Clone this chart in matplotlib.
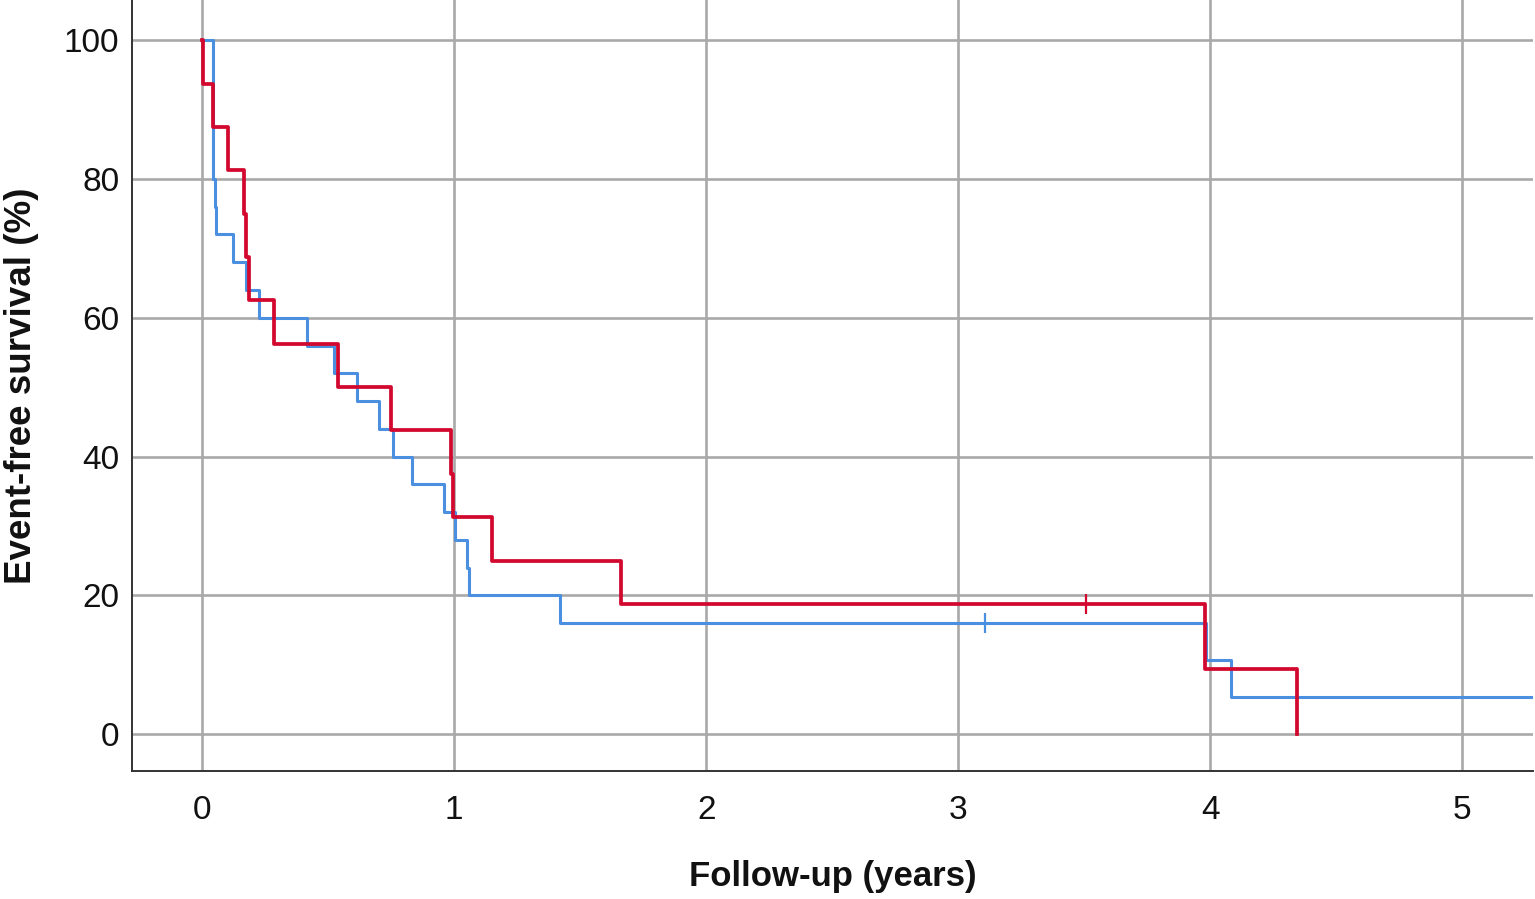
import matplotlib
matplotlib.use("Agg")
import matplotlib.pyplot as plt

# ---- data ----
# Blue group: event times (years) and survival (%) after each step
blue_times = [0.0, 0.045, 0.050, 0.056, 0.123, 0.175, 0.226, 0.417, 0.524, 0.615,
              0.702, 0.758, 0.833, 0.960, 1.004, 1.052, 1.060, 1.421, 3.984, 4.083, 5.40]
blue_surv = [100, 80, 76, 72, 68, 64, 60, 56, 52, 48,
             44, 40, 36, 32, 28, 24, 20, 16, 10.67, 5.33, 5.33]
blue_censor_t = [3.107]
blue_censor_s = [16]

# Red group
red_times = [0.0, 0.004, 0.044, 0.103, 0.167, 0.175, 0.185, 0.286, 0.540, 0.750,
             0.988, 0.996, 1.151, 1.663, 3.980, 4.345]
red_surv = [100, 93.75, 87.5, 81.25, 75, 68.75, 62.5, 56.25, 50, 43.75,
            37.5, 31.25, 25, 18.75, 9.375, 0]
red_censor_t = [3.508]
red_censor_s = [18.75]

x_ticks = [0, 1, 2, 3, 4, 5]
y_ticks = [0, 20, 40, 60, 80, 100]

BLUE = "#4a8fe0"
RED = "#d2082e"
GRID = "#a9a9a9"

plt.rcParams['font.family'] = ['Liberation Sans', 'DejaVu Sans']

fig = plt.figure(figsize=(15.35, 8.99), dpi=100)
ax = fig.add_axes([132 / 1535, 1 - 771 / 899, 1401 / 1535, 771 / 899])

ax.set_xlim(-0.278, 5.28)
ax.set_ylim(-5.33, 105.8)

ax.set_xticks(x_ticks)
ax.set_yticks(y_ticks)
ax.grid(True, color=GRID, linewidth=1.9, zorder=0)
ax.set_axisbelow(True)

ax.step(blue_times, blue_surv, where='post', color=BLUE, linewidth=2.2, zorder=3)
ax.plot(blue_censor_t, blue_censor_s, linestyle='none', marker='|', markersize=15,
        markeredgewidth=1.6, color=BLUE, zorder=3)
ax.step(red_times, red_surv, where='post', color=RED, linewidth=2.7, zorder=4)
ax.plot(red_censor_t, red_censor_s, linestyle='none', marker='|', markersize=15,
        markeredgewidth=1.6, color=RED, zorder=4)

for side in ['top', 'right']:
    ax.spines[side].set_visible(False)
for side in ['left', 'bottom']:
    ax.spines[side].set_color('#333333')
    ax.spines[side].set_linewidth(1.4)

ax.tick_params(axis='both', length=0, labelsize=24, colors='#111111')
ax.tick_params(axis='x', pad=17)
ax.tick_params(axis='y', pad=9)

ax.set_xlabel('Follow-up (years)', fontsize=25, fontweight='bold', color='#111111')
ax.xaxis.set_label_coords(0.5, -0.137)
ax.xaxis.label.set_verticalalignment('center')
ax.set_ylabel('Event-free survival (%)', fontsize=26.5, fontweight='bold', color='#111111')
ax.yaxis.set_label_coords(-0.079, 0.5)
ax.yaxis.label.set_verticalalignment('center')

fig.savefig('out.png', dpi=100)
